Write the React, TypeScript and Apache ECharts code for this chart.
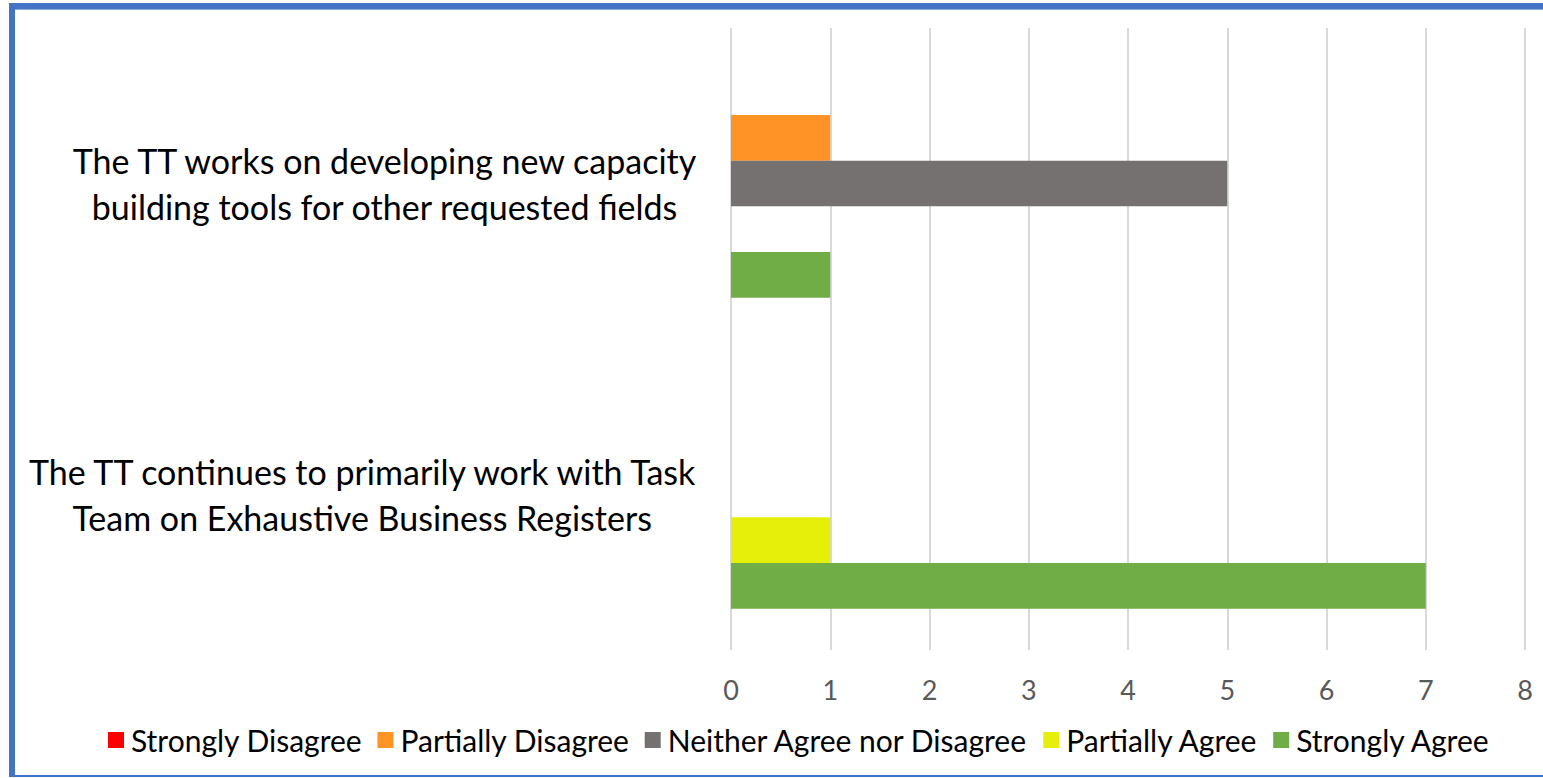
import React, { useEffect, useRef } from "react";
import * as echarts from "echarts";

const categories = [
  "The TT works on developing new capacity\nbuilding tools for other requested fields",
  "The TT continues to primarily work with Task\nTeam on Exhaustive Business Registers",
];
const seriesNames = [
  "Strongly Disagree",
  "Partially Disagree",
  "Neither Agree nor Disagree",
  "Partially Agree",
  "Strongly Agree",
];
const stronglyDisagree = [0, 0];
const partiallyDisagree = [1, 0];
const neitherAgreeNorDisagree = [5, 0];
const partiallyAgree = [0, 1];
const stronglyAgree = [1, 7];
const seriesColors = ["#FF0000", "#FF9326", "#767171", "#E6EF0A", "#70AD47"];
const xMin = 0;
const xMax = 8;
const xInterval = 1;

const FONT = "Lato, 'Noto Sans', sans-serif";

export default function App() {
  const ref = useRef<HTMLDivElement>(null);
  useEffect(() => {
    if (!ref.current) return;
    const chart = echarts.init(ref.current, undefined, { renderer: "svg" });
    const values = [
      stronglyDisagree,
      partiallyDisagree,
      neitherAgreeNorDisagree,
      partiallyAgree,
      stronglyAgree,
    ];
    chart.setOption({
      animation: false,
      textStyle: { fontFamily: FONT },
      grid: { left: 731, right: 18, top: 28, bottom: 128, containLabel: false },
      legend: {
        bottom: 18,
        left: 103,
        icon: "rect",
        itemWidth: 16,
        itemHeight: 16,
        itemGap: 15,
        textStyle: { fontSize: 30, color: "#000", fontFamily: FONT, padding: [0, 0, 0, 2] },
        data: seriesNames,
      },
      xAxis: {
        type: "value",
        min: xMin,
        max: xMax,
        interval: xInterval,
        axisLine: { show: false },
        axisTick: { show: false },
        splitLine: { show: true, lineStyle: { color: "#D9D9D9", width: 2 } },
        axisLabel: { fontSize: 27, color: "#595959", margin: 26, fontFamily: FONT },
      },
      yAxis: {
        type: "category",
        inverse: true,
        data: categories,
        axisLine: { show: false },
        axisTick: { show: false },
        axisLabel: {
          margin: 33,
          formatter: (v: string) =>
            v
              .split("\n")
              .map((l) => `{c|${l}}`)
              .join("\n"),
          rich: {
            c: {
              align: "center",
              fontSize: 34,
              lineHeight: 46,
              color: "#000",
              fontFamily: FONT,
            },
          },
        },
      },
      series: seriesNames.map((name, i) => ({
        name,
        type: "bar",
        data: values[i],
        barGap: "0%",
        barCategoryGap: "26.5%",
        itemStyle: { color: seriesColors[i] },
      })),
    });
    return () => chart.dispose();
  }, []);

  return (
    <div style={{ position: "fixed", left: 0, top: 0, width: 1543, height: 778, background: "#fff" }}>
      <div ref={ref} style={{ position: "absolute", left: 0, top: 0, width: 1543, height: 778 }} />
      <div style={{ position: "absolute", left: 9, top: 3, width: 1534, height: 6, background: "#4472C4" }} />
      <div style={{ position: "absolute", left: 15, top: 9, width: 1528, height: 1, background: "#8FAADC" }} />
      <div style={{ position: "absolute", left: 9, top: 3, width: 6, height: 773, background: "#4472C4" }} />
      <div style={{ position: "absolute", left: 9, top: 775, width: 1534, height: 2, background: "#4472C4" }} />
    </div>
  );
}
